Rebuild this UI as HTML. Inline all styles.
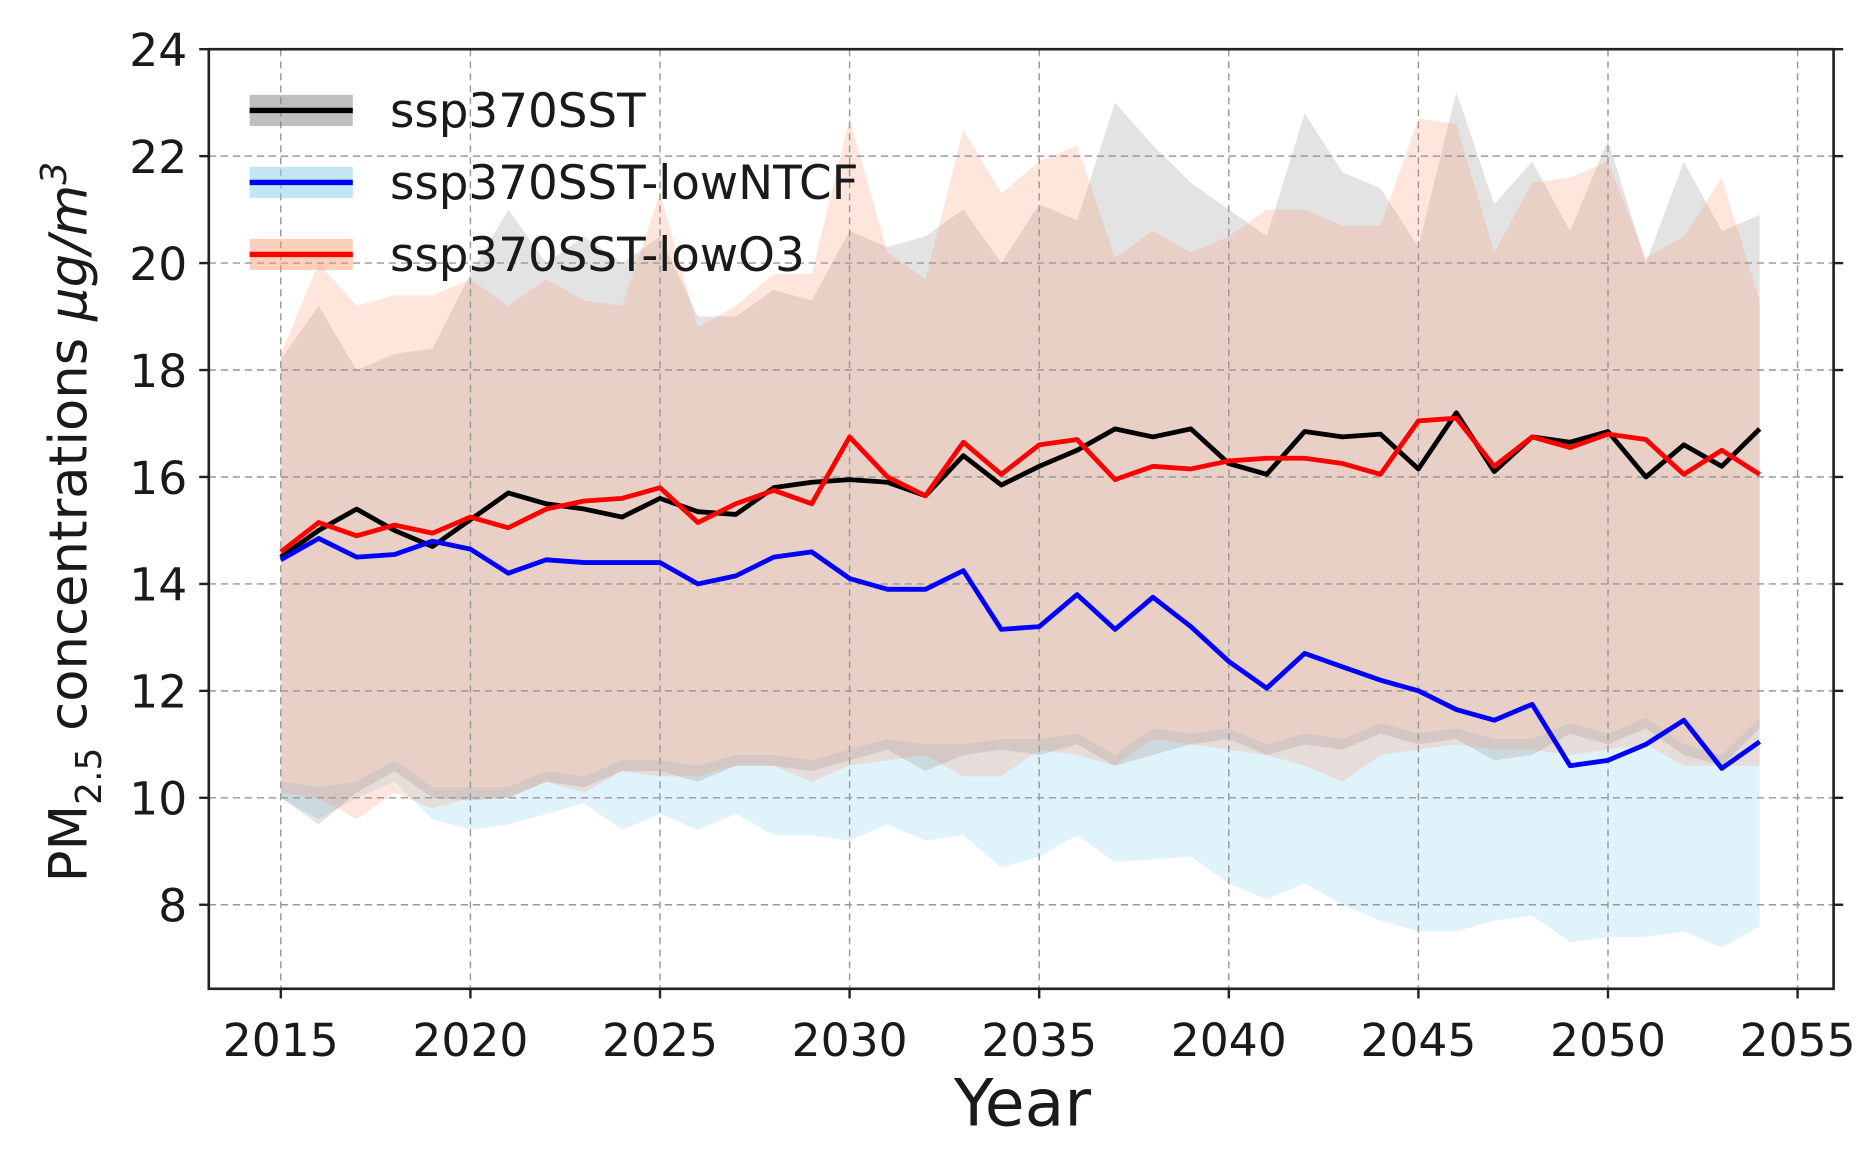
<!DOCTYPE html>
<html><head><meta charset="utf-8"><style>html,body{margin:0;padding:0;background:#fff}svg{display:block}</style></head>
<body>
<svg id="s" width="1875" height="1157" viewBox="0 0 1562.5 964.17" xmlns="http://www.w3.org/2000/svg" font-family="'DejaVu Sans','Liberation Sans',sans-serif">
<g id="bands"></g>
<g id="grid" stroke="#999" stroke-width="1.2" stroke-dasharray="6,4"></g>
<g id="lines" fill="none" stroke-width="4" stroke-linejoin="round"></g>
<rect x="174" y="41" width="1354" height="783" fill="none" stroke="#222" stroke-width="2.2"/>
<g id="ticks" stroke="#222" stroke-width="2"></g>
<g id="labels" font-size="38" fill="#1a1a1a"></g>
<text x="852" y="938" font-size="54" text-anchor="middle" fill="#1a1a1a">Year</text>
<text transform="translate(72,435) rotate(-90)" font-size="44" text-anchor="middle" fill="#1a1a1a">PM<tspan font-size="30" dy="12">2.5</tspan><tspan dy="-12"> concentrations </tspan><tspan font-style="italic">μg/m</tspan><tspan font-size="30" dy="-17" font-style="italic">3</tspan></text>
<g font-size="39" fill="#1a1a1a">
<rect x="208" y="79" width="86" height="26" fill="rgba(128,128,128,0.5)"/><line x1="208" y1="92" x2="294" y2="92" stroke="#000" stroke-width="4.5"/><text x="325" y="106">ssp370SST</text>
<rect x="208" y="139" width="86" height="26" fill="rgba(135,206,235,0.5)"/><line x1="208" y1="152" x2="294" y2="152" stroke="#00f" stroke-width="4.5"/><text x="325" y="166">ssp370SST-lowNTCF</text>
<rect x="208" y="199" width="86" height="26" fill="rgba(250,150,110,0.45)"/><line x1="208" y1="212" x2="294" y2="212" stroke="#f00" stroke-width="4.5"/><text x="325" y="226">ssp370SST-lowO3</text>
</g>
</svg>
<script>
const X=y=>234+(y-2015)*31.6, Y=v=>41+(24-v)*44.56;
const k=[14.5,15.0,15.4,15.0,14.7,15.2,15.7,15.5,15.4,15.25,15.6,15.35,15.3,15.8,15.9,15.95,15.9,15.65,16.4,15.85,16.2,16.5,16.9,16.75,16.9,16.25,16.05,16.85,16.75,16.8,16.15,17.2,16.1,16.75,16.65,16.85,16.0,16.6,16.2,16.9];
const r=[14.6,15.15,14.9,15.1,14.95,15.25,15.05,15.4,15.55,15.6,15.8,15.15,15.5,15.75,15.5,16.75,16.0,15.65,16.65,16.05,16.6,16.7,15.95,16.2,16.15,16.3,16.35,16.35,16.25,16.05,17.05,17.1,16.2,16.75,16.55,16.8,16.7,16.05,16.5,16.05];
const b=[14.45,14.85,14.5,14.55,14.8,14.65,14.2,14.45,14.4,14.4,14.4,14.0,14.15,14.5,14.6,14.1,13.9,13.9,14.25,13.15,13.2,13.8,13.15,13.75,13.2,12.55,12.05,12.7,12.45,12.2,12.0,11.65,11.45,11.75,10.6,10.7,11.0,11.45,10.55,11.05];
const gu=[18.2,19.2,18.0,18.3,18.4,19.8,21.0,20.0,20.5,20.0,20.5,19.0,19.0,19.5,19.3,20.6,20.3,20.5,21.0,20.0,21.1,20.8,23.0,22.2,21.5,21.0,20.5,22.8,21.7,21.4,20.3,23.2,21.1,21.9,20.6,22.3,20.0,21.9,20.6,20.9];
const gl=[10,9.5,10.1,10.5,10.0,9.95,10.0,10.3,10.2,10.5,10.5,10.3,10.6,10.6,10.5,10.7,10.9,10.5,10.8,10.9,10.8,11.0,10.6,10.8,11.0,11.1,10.8,11.0,10.9,11.2,11.0,11.1,10.7,10.8,11.2,11.0,11.3,10.8,10.6,11.3];
const ru=[18.3,20.0,19.2,19.4,19.4,19.7,19.2,19.7,19.3,19.2,21.3,18.8,19.2,19.8,19.8,22.7,20.2,19.7,22.5,21.3,21.9,22.2,20.1,20.6,20.2,20.5,21.0,21.0,20.7,20.7,22.7,22.6,20.2,21.5,21.6,21.9,20.1,20.5,21.6,19.3];
const rl=[10.1,10.0,9.6,10.1,9.8,10.0,10.0,10.3,10.1,10.5,10.4,10.4,10.6,10.6,10.3,10.6,10.7,10.8,10.4,10.4,10.9,10.8,10.6,11.1,11.0,10.9,10.8,10.6,10.3,10.8,10.9,11.0,10.9,10.9,10.8,10.9,11.0,10.6,10.6,10.6];
const bl=[10.0,9.6,10.0,10.3,9.6,9.4,9.5,9.7,9.9,9.4,9.7,9.4,9.7,9.3,9.3,9.2,9.5,9.2,9.3,8.7,8.9,9.3,8.8,8.85,8.9,8.4,8.1,8.4,8.0,7.7,7.5,7.5,7.7,7.8,7.3,7.4,7.4,7.5,7.2,7.6];
const bu=b.map((v,i)=>Math.max(gl[i],rl[i])+0.2);
const NS="http://www.w3.org/2000/svg";
function el(p,t,a){const e=document.createElementNS(NS,t);for(const q in a)e.setAttribute(q,a[q]);document.getElementById(p).appendChild(e);return e;}
function pts(a){return a.map((v,i)=>X(2015+i).toFixed(1)+","+Y(v).toFixed(1));}
function band(u,l,c){el("bands","polygon",{points:pts(u).concat(pts(l).reverse()).join(" "),fill:c});}
band(bu,bl,"rgba(135,206,235,0.25)");
band(gu,gl,"rgba(128,128,128,0.22)");
band(ru,rl,"rgba(250,140,100,0.22)");
for(let y=2015;y<=2055;y+=5){el("grid","line",{x1:X(y),x2:X(y),y1:41,y2:824});el("ticks","line",{x1:X(y),x2:X(y),y1:824,y2:832});const t=el("labels","text",{x:X(y),y:880,"text-anchor":"middle"});t.textContent=y;}
for(let v=8;v<=24;v+=2){el("grid","line",{x1:174,x2:1528,y1:Y(v),y2:Y(v)});el("ticks","line",{x1:166,x2:174,y1:Y(v),y2:Y(v)});el("ticks","line",{x1:1528,x2:1536,y1:Y(v),y2:Y(v)});const t=el("labels","text",{x:156,y:Y(v)+14,"text-anchor":"end"});t.textContent=v;}
el("lines","polyline",{points:pts(k).join(" "),stroke:"#000"});
el("lines","polyline",{points:pts(b).join(" "),stroke:"#00f"});
el("lines","polyline",{points:pts(r).join(" "),stroke:"#f00"});
</script>
</body></html>
